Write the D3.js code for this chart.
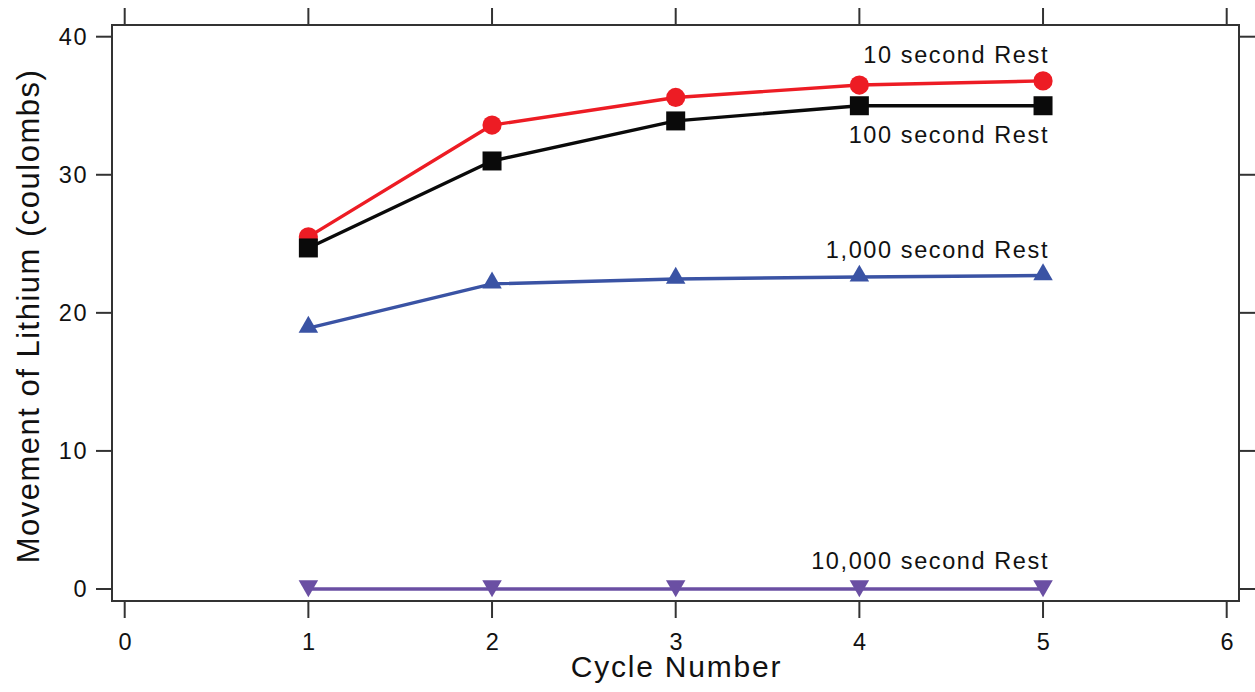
<!DOCTYPE html>
<html>
<head>
<meta charset="utf-8">
<script src="https://cdn.jsdelivr.net/npm/d3@7"></script>
<style>
  html, body { margin: 0; padding: 0; background: #fff; }
  svg { display: block; font-family: Arial, "Liberation Sans", Helvetica, sans-serif; }
</style>
</head>
<body>
<svg id="chart" width="1255" height="692"></svg>
<script>
// Data
const cycles = [1, 2, 3, 4, 5];
const rest10 = [25.5, 33.6, 35.6, 36.5, 36.8];
const rest100 = [24.7, 31.0, 33.9, 35.0, 35.0];
const rest1000 = [18.9, 22.1, 22.45, 22.6, 22.7];
const rest10000 = [0, 0, 0, 0, 0];
const seriesNames = ["10 second Rest", "100 second Rest", "1,000 second Rest", "10,000 second Rest"];
const xTicks = [0, 1, 2, 3, 4, 5, 6];
const yTicks = [0, 10, 20, 30, 40];

const svg = d3.select("#chart");

// frame + scales
const frame = { left: 112, right: 1239, top: 25, bottom: 601 };
const x = d3.scaleLinear().domain([0, 6]).range([124.7, 1226.7]);
const y = d3.scaleLinear().domain([0, 40]).range([589, 36.7]);

// series styling (draw order: blue, purple, red, black)
const series = [
    { name: seriesNames[2], values: rest1000, color: "#3a53a4", marker: "up", labelDy: -18 },
    { name: seriesNames[3], values: rest10000, color: "#6a4fa3", marker: "down", labelDy: -20 },
    { name: seriesNames[0], values: rest10, color: "#ed1c24", marker: "circle", labelDy: -18 },
    { name: seriesNames[1], values: rest100, color: "#0a0a0a", marker: "square", labelDy: 37 }
];

const tickStroke = "#333";

// frame box
svg.append("rect")
    .attr("x", frame.left)
    .attr("y", frame.top)
    .attr("width", frame.right - frame.left)
    .attr("height", frame.bottom - frame.top)
    .attr("fill", "none")
    .attr("stroke", tickStroke)
    .attr("stroke-width", 2);

// outward ticks on all four sides
const ticks = svg.append("g").attr("stroke", tickStroke).attr("stroke-width", 2);
ticks.selectAll(".xb").data(xTicks).join("line")
    .attr("x1", d => x(d)).attr("x2", d => x(d))
    .attr("y1", frame.bottom).attr("y2", frame.bottom + 17);
ticks.selectAll(".xt").data(xTicks).join("line")
    .attr("x1", d => x(d)).attr("x2", d => x(d))
    .attr("y1", frame.top).attr("y2", frame.top - 17);
ticks.selectAll(".yl").data(yTicks).join("line")
    .attr("y1", d => y(d)).attr("y2", d => y(d))
    .attr("x1", frame.left).attr("x2", frame.left - 16);
ticks.selectAll(".yr").data(yTicks).join("line")
    .attr("y1", d => y(d)).attr("y2", d => y(d))
    .attr("x1", frame.right).attr("x2", frame.right + 16);

// tick labels
svg.append("g")
    .attr("font-size", "23.5px")
    .attr("letter-spacing", "1.5px")
    .attr("text-anchor", "middle")
    .attr("fill", "#111")
  .selectAll("text")
  .data(xTicks)
  .join("text")
    .attr("x", d => x(d) + 1)
    .attr("y", 650)
    .text(d => d);

svg.append("g")
    .attr("font-size", "23.5px")
    .attr("letter-spacing", "1.5px")
    .attr("text-anchor", "end")
    .attr("fill", "#111")
  .selectAll("text")
  .data(yTicks)
  .join("text")
    .attr("x", 88)
    .attr("y", d => y(d))
    .attr("dy", "0.36em")
    .text(d => d);

// axis titles
svg.append("text")
    .attr("x", (frame.left + frame.right) / 2 + 1)
    .attr("y", 677)
    .attr("text-anchor", "middle")
    .attr("font-size", "30px")
    .attr("letter-spacing", "1.8px")
    .attr("fill", "#111")
    .text("Cycle Number");

svg.append("text")
    .attr("transform", `translate(39, ${(frame.top + frame.bottom) / 2 + 3}) rotate(-90)`)
    .attr("text-anchor", "middle")
    .attr("font-size", "31px")
    .attr("letter-spacing", "1.5px")
    .attr("fill", "#111")
    .text("Movement of Lithium (coulombs)");

// lines and markers
const line = d3.line()
    .x((d, i) => x(cycles[i]))
    .y(d => y(d));

const symbolFor = {
    circle: d3.symbol().type(d3.symbolCircle).size(Math.PI * 9.6 * 9.6),
    square: d3.symbol().type(d3.symbolSquare).size(19 * 19),
    up: d3.symbol().type(d3.symbolTriangle).size(165),
    down: d3.symbol().type(d3.symbolTriangle).size(165)
};

series.forEach(s => {
    const g = svg.append("g");
    g.append("path")
        .attr("d", line(s.values))
        .attr("fill", "none")
        .attr("stroke", s.color)
        .attr("stroke-width", 3.4)
        .attr("stroke-linejoin", "round");
    g.selectAll("path.m")
        .data(s.values)
        .join("path")
        .attr("class", "m")
        .attr("d", symbolFor[s.marker]())
        .attr("transform", (d, i) => {
            let t = `translate(${x(cycles[i])},${y(d)})`;
            if (s.marker === "up") t += " translate(0,-1)";
            if (s.marker === "down") t += " translate(0,-3) rotate(180)";
            return t;
        })
        .attr("fill", s.color);
});

// series labels, right-aligned near the last point
svg.append("g")
    .attr("font-size", "23.5px")
    .attr("letter-spacing", "1.6px")
    .attr("text-anchor", "end")
    .attr("fill", "#111")
  .selectAll("text")
  .data(series)
  .join("text")
    .attr("x", x(cycles[cycles.length - 1]) + 6)
    .attr("y", s => y(s.values[s.values.length - 1]) + s.labelDy)
    .text(s => s.name);
</script>
</body>
</html>
